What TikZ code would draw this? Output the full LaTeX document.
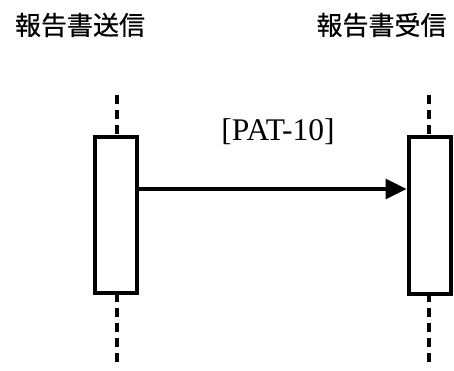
\documentclass[tikz,border=0pt]{standalone}
\usepackage{fontspec}
\setmainfont{Liberation Serif}
\newfontfamily\cjk[FakeBold=0.6]{Noto Sans CJK JP}
\usetikzlibrary{arrows.meta}
\begin{document}
\begin{tikzpicture}[x=1pt,y=-1pt,
  actbox/.style={draw=black,line width=4pt,fill=white,minimum width=42pt,minimum height=156pt,inner sep=0pt},
  lifeline/.style={line width=3.2pt,dash pattern=on 9pt off 6pt},
  title/.style={font=\cjk\fontsize{26}{30}\selectfont,inner sep=0pt},
  msg/.style={line width=3.5pt,-{Triangle[length=21pt,width=20pt]}},
  msglabel/.style={font=\fontsize{31.5}{35}\selectfont,inner sep=0pt}]
\useasboundingbox[fill=white] (0,0) rectangle (454,371);
\node[title] (tL) at (80,25) {報告書送信};
\node[title] (tR) at (381.5,25) {報告書受信};
\coordinate (Ltop) at (117,95);
\coordinate (Lbot) at (117,362);
\coordinate (Rtop) at (429,95);
\coordinate (Rbot) at (429,362);
\draw[lifeline] (Ltop) -- (117,215);
\draw[lifeline] (Lbot) -- (117,215);
\draw[lifeline] (Rtop) -- (429,215);
\draw[lifeline] (Rbot) -- (429,215);
\node[actbox] (L) at (116,215) {};
\node[actbox] (R) at (429.5,215.5) {};
\draw[msg] (L.east |- 0,189) -- (R.west |- 0,189);
\node[msglabel] (lab) at (278,132) {[PAT-10]};
\end{tikzpicture}
\end{document}
